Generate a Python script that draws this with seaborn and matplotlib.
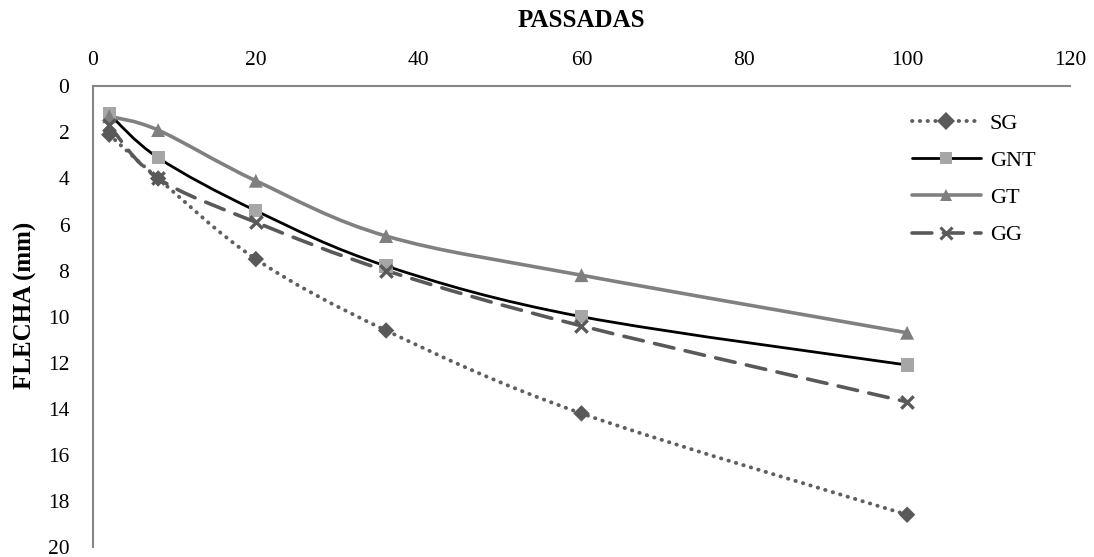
import matplotlib
matplotlib.use("Agg")
import matplotlib.pyplot as plt
import numpy as np
import pandas as pd
import seaborn as sns
from matplotlib.lines import Line2D
from matplotlib.patches import PathPatch
from matplotlib.path import Path

# data
PASSADAS = [2, 8, 20, 36, 60, 100]
SG = [2.1, 4.0, 7.5, 10.6, 14.2, 18.6]
GNT = [1.2, 3.1, 5.4, 7.8, 10.0, 12.1]
GT = [1.3, 1.9, 4.1, 6.5, 8.2, 10.7]
GG = [1.7, 4.0, 5.9, 8.0, 10.4, 13.7]
SERIES = ["SG", "GNT", "GT", "GG"]

X_TICKS = [0, 20, 40, 60, 80, 100, 120]
Y_TICKS = [0, 2, 4, 6, 8, 10, 12, 14, 16, 18, 20]

# styles per series: line colour, line style, marker, marker colour
STYLE = {
    "SG": dict(color="#5f5f5f", ls=(0, (0.1, 1.9)), lw=2.8, marker="D", mc="#595959", ms=70, cap="round"),
    "GNT": dict(color="#000000", ls="-", lw=2.0, marker="s", mc="#a6a6a6", ms=90, cap="butt"),
    "GT": dict(color="#808080", ls="-", lw=2.6, marker="^", mc="#7f7f7f", ms=100, cap="butt"),
    "GG": dict(color="#595959", ls=(0, (5.5, 3.2)), lw=2.6, marker="x", mc="#595959", ms=80, cap="round"),
}

df = pd.DataFrame({
    "passadas": PASSADAS * 4,
    "flecha": SG + GNT + GT + GG,
    "serie": np.repeat(SERIES, len(PASSADAS)),
})


def smooth_path(xs, ys):
    """Excel-like smoothed line as cubic Bezier segments through the points."""
    pts = np.column_stack([xs, ys]).astype(float)
    ext = np.vstack([pts[0], pts, pts[-1]])
    verts = [pts[0]]
    codes = [Path.MOVETO]
    for i in range(len(pts) - 1):
        p0, p1, p2, p3 = ext[i], ext[i + 1], ext[i + 2], ext[i + 3]
        verts += [p1 + (p2 - p0) / 6, p2 - (p3 - p1) / 6, p2]
        codes += [Path.CURVE4] * 3
    return Path(verts, codes)


sns.set_theme(style="white", rc={"text.color": "black", "xtick.color": "black",
                                 "ytick.color": "black", "axes.labelcolor": "black"})
plt.rcParams["font.family"] = ["Liberation Serif", "DejaVu Serif"]

fig = plt.figure(figsize=(10.94, 5.57), dpi=100)
ax = fig.add_axes([0.085, 0.018, 0.893, 0.827])

for name in SERIES:
    st = STYLE[name]
    sub = df[df.serie == name]
    patch = PathPatch(smooth_path(sub.passadas, sub.flecha), fill=False,
                      edgecolor=st["color"], linewidth=st["lw"], linestyle=st["ls"],
                      capstyle=st["cap"], zorder=2)
    ax.add_patch(patch)
    kw = dict(linewidth=2.4) if st["marker"] == "x" else dict(edgecolor="none")
    sns.scatterplot(data=sub, x="passadas", y="flecha", marker=st["marker"],
                    color=st["mc"], s=st["ms"], ax=ax, zorder=3, legend=False, **kw)

ax.set_xlim(0, 120)
ax.set_ylim(20, 0)
ax.set_xticks(X_TICKS)
ax.set_yticks(Y_TICKS)
ax.xaxis.tick_top()
ax.xaxis.set_label_position("top")
ax.tick_params(axis="both", length=0, labelsize=15.5)
ax.tick_params(axis="x", pad=12)
ax.tick_params(axis="y", pad=17)
ax.set_xlabel("PASSADAS", fontsize=18, fontweight="bold", labelpad=17)
ax.set_ylabel("FLECHA (mm)", fontsize=18, fontweight="bold")
ax.yaxis.set_label_coords(-0.057, 0.525)
for side in ["bottom", "right"]:
    ax.spines[side].set_visible(False)
for side in ["top", "left"]:
    ax.spines[side].set_color("#878787")
    ax.spines[side].set_linewidth(1.5)

handles = []
for name in SERIES:
    st = STYLE[name]
    handles.append(Line2D([0], [0], color=st["color"], linestyle=st["ls"], linewidth=st["lw"],
                          marker=st["marker"], markersize=9,
                          markerfacecolor=st["mc"], markeredgecolor=st["mc"],
                          markeredgewidth=2.2 if st["marker"] == "x" else 0,
                          dash_capstyle=st["cap"]))
ax.legend(handles=handles, labels=SERIES, loc="upper right", bbox_to_anchor=(0.985, 0.985),
          frameon=False, fontsize=16, handlelength=3.1, labelspacing=0.75, handletextpad=0.4)

fig.savefig("out.png", dpi=100)
